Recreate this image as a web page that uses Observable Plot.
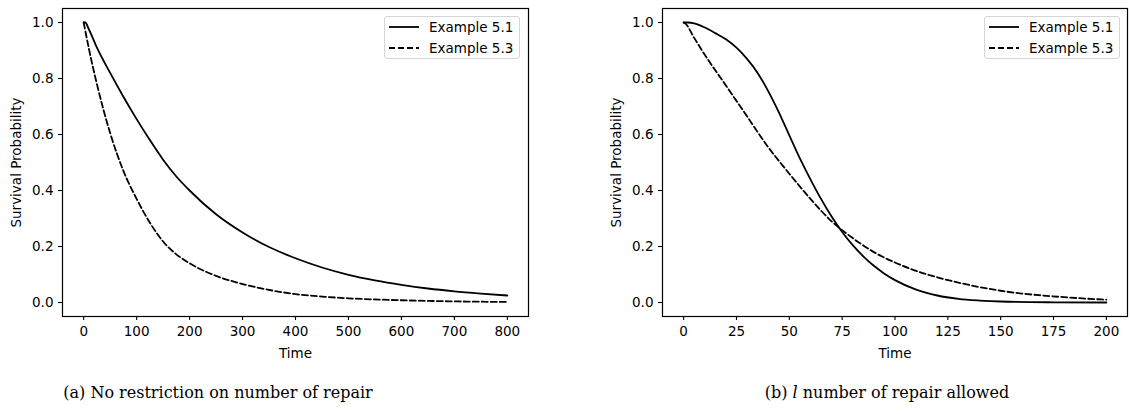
<!DOCTYPE html>
<html>
<head>
<meta charset="utf-8">
<script src="https://cdn.jsdelivr.net/npm/d3@7"></script>
<script src="https://cdn.jsdelivr.net/npm/@observablehq/plot@0.6"></script>
<style>
  html, body { margin: 0; padding: 0; background: #fff; }
  #root { position: relative; width: 1131px; height: 414px; overflow: hidden; }
  .panel { position: absolute; top: 0; }
  .legend { position: absolute; top: 16px; width: 136px; height: 43px; border: 1px solid #d5d5d5; border-radius: 3px; background: rgba(255,255,255,0.8); font-family: "DejaVu Sans", sans-serif; font-size: 13.5px; color: #000; box-sizing: border-box; }
  .legend .row { position: absolute; left: 4px; height: 16px; display: flex; align-items: center; }
  .legend svg { display: block; margin-right: 10px; }
  .caption { position: absolute; top: 384px; transform: translateX(-50%); white-space: nowrap; font-family: "DejaVu Serif", serif; font-size: 16px; line-height: 18px; color: #000; }
</style>
</head>
<body>
<div id="root"></div>
<script>
// ----- data -----
// (a) No restriction on number of repair
const timeA51 = [0, 3, 10, 25, 50, 75, 100, 125, 150, 175, 200, 250, 300, 350, 400, 450, 500, 550, 600, 650, 700, 750, 800];
const survA51 = [1.0, 1.0, 0.975, 0.91, 0.82, 0.735, 0.655, 0.58, 0.51, 0.45, 0.40, 0.315, 0.25, 0.198, 0.158, 0.125, 0.099, 0.079, 0.063, 0.050, 0.040, 0.032, 0.025];
const timeA53 = [0, 10, 25, 50, 75, 100, 125, 150, 175, 200, 250, 300, 350, 400, 450, 500, 600, 700, 800];
const survA53 = [1.0, 0.905, 0.78, 0.605, 0.47, 0.37, 0.285, 0.218, 0.172, 0.14, 0.095, 0.066, 0.045, 0.030, 0.021, 0.015, 0.008, 0.004, 0.002];
// (b) l number of repair allowed
const timeB51 = [0, 2, 5, 10, 15, 20, 25, 30, 35, 40, 45, 50, 55, 60, 65, 70, 75, 80, 85, 90, 95, 100, 110, 120, 130, 140, 150, 175, 200];
const survB51 = [1.0, 1.0, 0.997, 0.982, 0.962, 0.94, 0.91, 0.87, 0.82, 0.755, 0.68, 0.597, 0.515, 0.44, 0.37, 0.307, 0.252, 0.205, 0.165, 0.131, 0.103, 0.08, 0.046, 0.025, 0.013, 0.007, 0.0035, 0.0008, 0.0];
const timeB53 = [0, 1, 5, 10, 20, 30, 40, 50, 60, 70, 80, 90, 100, 110, 120, 130, 140, 150, 160, 170, 180, 190, 200];
const survB53 = [1.0, 0.995, 0.945, 0.885, 0.775, 0.665, 0.555, 0.46, 0.37, 0.29, 0.23, 0.18, 0.143, 0.113, 0.09, 0.071, 0.055, 0.042, 0.032, 0.025, 0.019, 0.014, 0.01];

const seriesNames = ["Example 5.1", "Example 5.3"];
const xTicksA = [0, 100, 200, 300, 400, 500, 600, 700, 800];
const xTicksB = [0, 25, 50, 75, 100, 125, 150, 175, 200];
const yTicks = [0, 0.2, 0.4, 0.6, 0.8, 1.0];
const captions = ["(a) No restriction on number of repair", "(b) <i>l</i> number of repair allowed"];

const rows = (ts, ss) => ts.map((t, i) => ({t, s: ss[i]}));

function panel({t51, s51, t53, s53, xDomain, xTicks, width, marginLeft, marginRight}) {
  return Plot.plot({
    width, height: 370,
    marginLeft, marginRight, marginTop: 8, marginBottom: 54,
    style: {fontFamily: "DejaVu Sans, sans-serif", fontSize: "13.5px", color: "#000", background: "transparent", overflow: "visible"},
    x: {domain: xDomain},
    y: {domain: [-0.05, 1.05]},
    marks: [
      Plot.axisX({ticks: xTicks, tickSize: 4, tickPadding: 6, label: "Time", labelAnchor: "center", labelArrow: "none", labelOffset: 41, strokeWidth: 1.1}),
      Plot.axisY({ticks: yTicks, tickSize: 4, tickPadding: 5, tickFormat: d3.format(".1f"), label: "Survival Probability", labelAnchor: "center", labelArrow: "none", labelOffset: 51, strokeWidth: 1.1}),
      Plot.line(rows(t51, s51), {x: "t", y: "s", stroke: "#000", strokeWidth: 1.8, curve: "monotone-x"}),
      Plot.line(rows(t53, s53), {x: "t", y: "s", stroke: "#000", strokeWidth: 1.8, strokeDasharray: "6,3", curve: "monotone-x"}),
      Plot.frame({stroke: "#000", strokeWidth: 1.2})
    ]
  });
}

function legend(left) {
  const div = document.createElement("div");
  div.className = "legend";
  div.style.left = left + "px";
  seriesNames.forEach((name, i) => {
    const row = document.createElement("div");
    row.className = "row";
    row.style.top = (i === 0 ? 2 : 23) + "px";
    row.innerHTML = `<svg width="30" height="6"><line x1="0" x2="30" y1="3" y2="3" stroke="#000" stroke-width="1.8" ${i === 1 ? 'stroke-dasharray="6,3"' : ''}/></svg><span>${name}</span>`;
    div.appendChild(row);
  });
  return div;
}

const root = document.getElementById("root");

const pa = document.createElement("div");
pa.className = "panel"; pa.style.left = "0px";
pa.appendChild(panel({t51: timeA51, s51: survA51, t53: timeA53, s53: survA53, xDomain: [-40, 840], xTicks: xTicksA, width: 565, marginLeft: 62, marginRight: 37}));
root.appendChild(pa);

const pb = document.createElement("div");
pb.className = "panel"; pb.style.left = "565px";
pb.appendChild(panel({t51: timeB51, s51: survB51, t53: timeB53, s53: survB53, xDomain: [-10, 210], xTicks: xTicksB, width: 566, marginLeft: 97, marginRight: 4}));
root.appendChild(pb);

root.appendChild(legend(384));
root.appendChild(legend(984));

[218, 887].forEach((cx, i) => {
  const c = document.createElement("div");
  c.className = "caption";
  c.style.left = cx + "px";
  c.innerHTML = captions[i];
  root.appendChild(c);
});
</script>
</body>
</html>
